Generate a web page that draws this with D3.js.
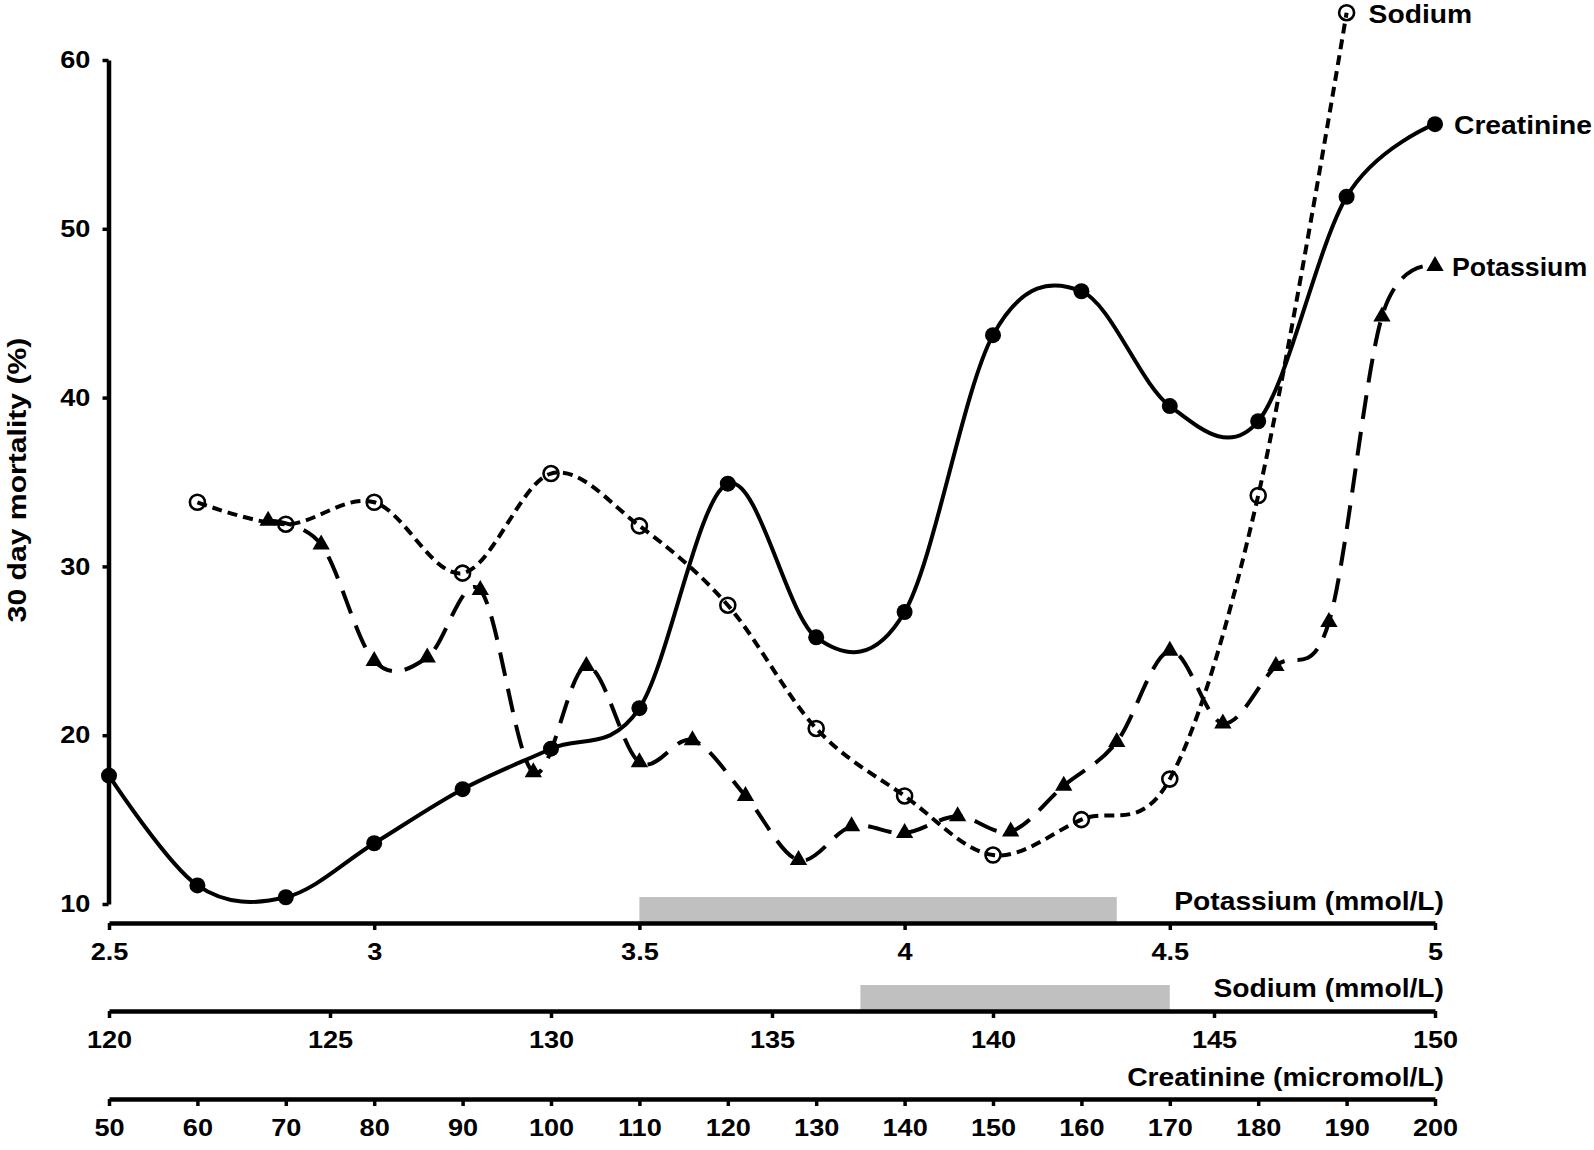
<!DOCTYPE html>
<html>
<head>
<meta charset="utf-8">
<script src="https://cdn.jsdelivr.net/npm/d3@7"></script>
<style>
  html, body { margin: 0; padding: 0; background: #fff; }
  svg { display: block; }
  text { font-family: "Liberation Sans", Arial, sans-serif; font-weight: bold; fill: #000; }
</style>
</head>
<body>
<svg id="chart" width="1594" height="1150"></svg>
<script>
// ---- data ----
const creatinineX = [50, 60, 70, 80, 90, 100, 110, 120, 130, 140, 150, 160, 170, 180, 190, 200];
const creatinineY = [17.6, 11.1, 10.4, 13.6, 16.8, 19.2, 21.6, 34.9, 25.8, 27.3, 43.7, 46.3, 39.5, 38.6, 51.9, 56.2];

const sodiumX = [122, 124, 126, 128, 130, 132, 134, 136, 138, 140, 142, 144, 146, 148];
const sodiumY = [33.8, 32.5, 33.8, 29.6, 35.5, 32.4, 27.7, 20.4, 16.4, 12.9, 15.0, 17.4, 34.2, 62.8];

const potassiumX = [2.8, 2.9, 3.0, 3.1, 3.2, 3.3, 3.4, 3.5, 3.6, 3.7, 3.8, 3.9, 4.0, 4.1, 4.2, 4.3, 4.4, 4.5, 4.6, 4.7, 4.8, 4.9, 5.0];
const potassiumY = [32.7, 31.3, 24.4, 24.6, 28.6, 17.8, 24.1, 18.4, 19.7, 16.4, 12.6, 14.6, 14.2, 15.2, 14.3, 17.0, 19.6, 25.0, 20.7, 24.1, 26.7, 44.8, 47.8];

const potassiumBand = [3.5, 4.4];
const sodiumBand = [137, 144];

const yTicks = [10, 20, 30, 40, 50, 60];
const potassiumTicks = [2.5, 3, 3.5, 4, 4.5, 5];
const sodiumTicks = [120, 125, 130, 135, 140, 145, 150];
const creatinineTicks = [50, 60, 70, 80, 90, 100, 110, 120, 130, 140, 150, 160, 170, 180, 190, 200];

const seriesNames = ["Sodium", "Creatinine", "Potassium"];
const axisTitles = ["Potassium (mmol/L)", "Sodium (mmol/L)", "Creatinine (micromol/L)"];
const yTitle = "30 day mortality (%)";

// ---- layout ----
const svg = d3.select("#chart");
const X0 = 109, X1 = 1435;
const yAxisX = 108.5;
const stretch = 1.13;

const y = d3.scaleLinear().domain([10, 60]).range([904, 60]);
const xK = d3.scaleLinear().domain([2.5, 5]).range([X0, X1]);
const xNa = d3.scaleLinear().domain([120, 150]).range([X0, X1]);
const xCr = d3.scaleLinear().domain([50, 200]).range([X0, X1]);

const axisK_Y = 923, axisNa_Y = 1011, axisCr_Y = 1099;

// gray reference bands
const bandH = 25;
svg.append("rect")
  .attr("x", xK(potassiumBand[0])).attr("width", xK(potassiumBand[1]) - xK(potassiumBand[0]))
  .attr("y", axisK_Y - bandH - 1).attr("height", bandH)
  .attr("fill", "#c0c0c0");
svg.append("rect")
  .attr("x", xNa(sodiumBand[0])).attr("width", xNa(sodiumBand[1]) - xNa(sodiumBand[0]))
  .attr("y", axisNa_Y - bandH - 1).attr("height", bandH)
  .attr("fill", "#c0c0c0");

function styleAxis(g) {
  g.select(".domain").attr("stroke", "#000").attr("stroke-width", 4.5);
  g.selectAll(".tick line").attr("stroke", "#000").attr("stroke-width", 3.5);
  g.selectAll(".tick text").attr("font-size", 24).attr("font-family", "Liberation Sans, Arial, sans-serif")
    .attr("font-weight", "bold").attr("fill", "#000");
}

// y axis
const gy = svg.append("g").attr("transform", `translate(${yAxisX},0)`)
  .call(d3.axisLeft(y).tickValues(yTicks).tickSize(6).tickSizeOuter(0).tickPadding(12).tickFormat(d3.format("d")));
styleAxis(gy);
gy.selectAll(".tick text").attr("transform", `scale(${stretch},1)`).attr("x", -16);

// x axes
function bottomAxis(scale, ticks, yPos, fmt) {
  const g = svg.append("g").attr("transform", `translate(0,${yPos})`)
    .call(d3.axisBottom(scale).tickValues(ticks).tickSize(7).tickSizeOuter(0).tickPadding(13).tickFormat(fmt));
  styleAxis(g);
  g.selectAll(".tick text").attr("transform", `scale(${stretch},1)`);
  return g;
}
bottomAxis(xK, potassiumTicks, axisK_Y, d3.format("~g"));
bottomAxis(xNa, sodiumTicks, axisNa_Y, d3.format("d"));
bottomAxis(xCr, creatinineTicks, axisCr_Y, d3.format("d"));

// axis titles
function label(txt, x, yy, anchor, size, sx) {
  svg.append("g").attr("transform", `translate(${x},${yy})`)
    .append("text").attr("transform", `scale(${sx || stretch},1)`)
    .attr("text-anchor", anchor).attr("dominant-baseline", "central")
    .attr("font-size", size).text(txt);
}
label(axisTitles[0], 1444, 902, "end", 25);
label(axisTitles[1], 1444, 989, "end", 25);
label(axisTitles[2], 1444, 1078, "end", 25);

// y title
svg.append("text")
  .attr("transform", `translate(17,480) rotate(-90) scale(1.16,1)`)
  .attr("text-anchor", "middle").attr("dominant-baseline", "central")
  .attr("font-size", 26).text(yTitle);

// ---- series ----
const curve = d3.curveCardinal.tension(0);

const crPts = creatinineX.map((v, i) => [xCr(v), y(creatinineY[i])]);
const naPts = sodiumX.map((v, i) => [xNa(v), y(sodiumY[i])]);
const kPts = potassiumX.map((v, i) => [xK(v), y(potassiumY[i])]);

const line = d3.line().curve(curve);

svg.append("path").attr("d", line(kPts)).attr("fill", "none").attr("stroke", "#000")
  .attr("stroke-width", 4).attr("stroke-dasharray", "24,13");
svg.append("path").attr("d", line(naPts)).attr("fill", "none").attr("stroke", "#000")
  .attr("stroke-width", 4).attr("stroke-dasharray", "10,6");
svg.append("path").attr("d", line(crPts)).attr("fill", "none").attr("stroke", "#000")
  .attr("stroke-width", 4);

// markers
svg.append("g").selectAll("path").data(kPts).join("path")
  .attr("transform", d => `translate(${d[0]},${d[1]})`)
  .attr("d", d3.symbol().type(d3.symbolTriangle).size(130))
  .attr("fill", "#000");

svg.append("g").selectAll("circle").data(naPts).join("circle")
  .attr("cx", d => d[0]).attr("cy", d => d[1]).attr("r", 7.5)
  .attr("fill", "none").attr("stroke", "#000").attr("stroke-width", 2.6);

svg.append("g").selectAll("circle").data(crPts).join("circle")
  .attr("cx", d => d[0]).attr("cy", d => d[1]).attr("r", 8)
  .attr("fill", "#000");

// series end labels
const lastNa = naPts[naPts.length - 1];
const lastCr = crPts[crPts.length - 1];
const lastK = kPts[kPts.length - 1];
label(seriesNames[0], lastNa[0] + 22, lastNa[1] + 2, "start", 25);
label(seriesNames[1], lastCr[0] + 19, lastCr[1] + 1, "start", 25);
label(seriesNames[2], lastK[0] + 17, lastK[1] + 1, "start", 25, 1.07);
</script>
</body>
</html>
